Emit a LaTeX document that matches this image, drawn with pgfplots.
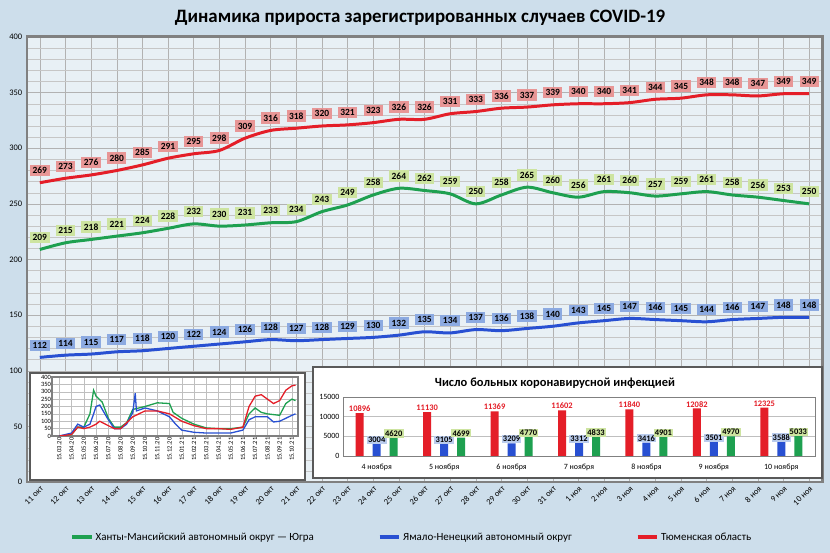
\documentclass[border=0pt]{standalone}
\usepackage{pgfplots}
\pgfplotsset{compat=1.18}
\usepackage{fontspec}
\setmainfont{Carlito}
\definecolor{bgc}{RGB}{205,222,235}
\definecolor{lred}{RGB}{228,30,40}
\definecolor{lgreen}{RGB}{30,160,80}
\definecolor{lblue}{RGB}{40,80,210}
\definecolor{bred}{RGB}{232,150,150}
\definecolor{bgreen}{RGB}{205,228,160}
\definecolor{bblue}{RGB}{140,170,225}
\begin{document}
\begin{tikzpicture}[x=1bp,y=1bp]
\useasboundingbox (0,0) rectangle (830,553);
\fill[bgc] (0,0) rectangle (830,553);
\node[font=\bfseries\fontsize{19}{21}\selectfont] at (420,535) {Динамика прироста зарегистрированных случаев COVID-19};
\begin{axis}[at={(27bp,71bp)},anchor=south west,scale only axis,width=795bp,height=445bp,
 xmin=-0.5,xmax=30.5,ymin=0,ymax=400,
 axis background/.style={fill=white,fill opacity=0.55},
 xtick={0,...,30},
 xticklabels={11 окт,12 окт,13 окт,14 окт,15 окт,16 окт,17 окт,18 окт,19 окт,20 окт,21 окт,22 окт,23 окт,24 окт,25 окт,26 окт,27 окт,28 окт,29 окт,30 окт,31 окт,1 ноя,2 ноя,3 ноя,4 ноя,5 ноя,6 ноя,7 ноя,8 ноя,9 ноя,10 ноя},
 x tick label style={rotate=45,anchor=north east,font=\fontsize{8.5}{9}\selectfont,inner sep=1pt},
 ytick={0,50,...,400},minor y tick num=4,
 y tick label style={font=\fontsize{8.5}{9}\selectfont},
 /pgf/number format/assume math mode=true,
 grid=both,major grid style={gray!60},minor grid style={gray!45},
 axis line style={gray},tick style={draw=none},
 legend columns=3,legend style={at={(0.484,-0.124)},anchor=center,draw=none,fill=none,font=\fontsize{11}{12}\selectfont,/tikz/every even column/.append style={column sep=62bp}},
 legend image code/.code={\draw[line width=3.5pt,#1] (0,0)--(0.7cm,0);},
 nodes near coords,
 every node near coord/.append style={font=\bfseries\fontsize{9.5}{10}\selectfont,inner sep=2.5pt,anchor=south,yshift=5bp},
 line width=3pt]
\addplot[lgreen,mark=none,smooth,nodes near coords style={fill=bgreen,text=black}] coordinates {(0,209)(1,215)(2,218)(3,221)(4,224)(5,228)(6,232)(7,230)(8,231)(9,233)(10,234)(11,243)(12,249)(13,258)(14,264)(15,262)(16,259)(17,250)(18,258)(19,265)(20,260)(21,256)(22,261)(23,260)(24,257)(25,259)(26,261)(27,258)(28,256)(29,253)(30,250)};
\addlegendentry{Ханты-Мансийский автономный округ — Югра}
\addplot[lblue,mark=none,smooth,nodes near coords style={fill=bblue,text=black}] coordinates {(0,112)(1,114)(2,115)(3,117)(4,118)(5,120)(6,122)(7,124)(8,126)(9,128)(10,127)(11,128)(12,129)(13,130)(14,132)(15,135)(16,134)(17,137)(18,136)(19,138)(20,140)(21,143)(22,145)(23,147)(24,146)(25,145)(26,144)(27,146)(28,147)(29,148)(30,148)};
\addlegendentry{Ямало-Ненецкий автономный округ}
\addplot[lred,mark=none,smooth,nodes near coords style={fill=bred,text=black}] coordinates {(0,269)(1,273)(2,276)(3,280)(4,285)(5,291)(6,295)(7,298)(8,309)(9,316)(10,318)(11,320)(12,321)(13,323)(14,326)(15,326)(16,331)(17,333)(18,336)(19,337)(20,339)(21,340)(22,340)(23,341)(24,344)(25,345)(26,348)(27,348)(28,347)(29,349)(30,349)};
\addlegendentry{Тюменская область}
\end{axis}
% left inset
\fill[white,draw=gray!70!black,line width=1.5pt] (30,73) rectangle (305,180);
\begin{axis}[at={(52bp,117bp)},anchor=south west,scale only axis,width=246bp,height=59bp,
 xmin=-0.6,xmax=19.5,ymin=0,ymax=400,
 xtick={0,...,19},
 xticklabels={15.03.20,15.04.20,15.05.20,15.06.20,15.07.20,15.08.20,15.09.20,15.10.20,15.11.20,15.12.20,15.01.21,15.02.21,15.03.21,15.04.21,15.05.21,15.06.21,15.07.21,15.08.21,15.09.21,15.10.21},
 x tick label style={rotate=90,anchor=east,font=\fontsize{6.5}{7}\selectfont,inner sep=1pt},
 ytick={0,50,...,400},
 y tick label style={font=\fontsize{6.5}{6.5}\selectfont,inner sep=0.5pt},
 /pgf/number format/assume math mode=true,
 grid=both,major grid style={gray!50},axis line style={gray},tick style={draw=none},line width=1.3pt]
\addplot[lgreen,mark=none] coordinates {(0,0)(1,10)(1.5,60)(2,60)(2.5,150)(2.8,310)(3,270)(3.5,230)(4,120)(4.5,60)(5,60)(5.5,90)(6,180)(7,200)(8,225)(9,220)(9.3,160)(10,120)(11,80)(12,55)(13,50)(14,50)(15,60)(15.5,150)(16,190)(16.5,160)(17,150)(18,140)(18.5,220)(19,250)(19.3,240)};
\addplot[lblue,mark=none] coordinates {(0,0)(1,20)(1.5,80)(2,60)(2.5,80)(2.8,150)(3,200)(3.3,210)(4,110)(4.5,50)(5,50)(5.5,80)(6,160)(6.2,290)(6.3,170)(7,190)(8,170)(9,130)(9.5,80)(10,40)(11,25)(12,20)(13,20)(14,20)(15,40)(15.5,110)(16,130)(17,130)(17.5,95)(18,100)(19,140)(19.3,150)};
\addplot[lred,mark=none] coordinates {(0,0)(1,10)(1.5,60)(2,50)(2.5,60)(3,80)(3.3,100)(4,70)(4.5,50)(5,50)(6,130)(7,170)(8,170)(9,150)(10,100)(11,70)(12,50)(13,50)(14,45)(15,60)(15.5,200)(16,270)(16.5,280)(17,250)(17.5,220)(18,240)(18.5,310)(19,340)(19.3,345)};
\end{axis}
% right inset
\fill[white,draw=gray!70!black,line width=1.5pt] (313,75) rectangle (822,186);
\node[font=\bfseries\fontsize{12.5}{13}\selectfont] at (555,170) {Число больных коронавирусной инфекцией};
\begin{axis}[at={(343bp,97bp)},anchor=south west,scale only axis,width=472bp,height=59bp,
 xmin=-0.5,xmax=6.5,ymin=0,ymax=15000,
 ybar,bar width=8bp,
 xtick={0,...,6},xticklabels={4 ноября,5 ноября,6 ноября,7 ноября,8 ноября,9 ноября,10 ноября},
 x tick label style={font=\fontsize{8}{8}\selectfont},
 ytick={0,5000,10000,15000},
 y tick label style={font=\fontsize{8}{8}\selectfont},
 scaled y ticks=false,
 /pgf/number format/assume math mode=true,
 ymajorgrids,major grid style={gray!50},axis line style={gray},tick style={draw=none},
 nodes near coords,
 every node near coord/.append style={font=\bfseries\fontsize{8.5}{9}\selectfont,inner sep=1.2pt},
 /pgf/number format/.cd,1000 sep={}]
\addplot[fill=lred,draw=none,bar shift=-17bp,nodes near coords style={text=lred}] coordinates {(0,10896)(1,11130)(2,11369)(3,11602)(4,11840)(5,12082)(6,12325)};
\addplot[fill=lblue,draw=none,bar shift=0bp,nodes near coords style={fill=bblue!60,text=black}] coordinates {(0,3004)(1,3105)(2,3209)(3,3312)(4,3416)(5,3501)(6,3588)};
\addplot[fill=lgreen,draw=none,bar shift=17bp,nodes near coords style={fill=bgreen,text=black}] coordinates {(0,4620)(1,4699)(2,4770)(3,4833)(4,4901)(5,4970)(6,5033)};
\end{axis}
\end{tikzpicture}
\end{document}
